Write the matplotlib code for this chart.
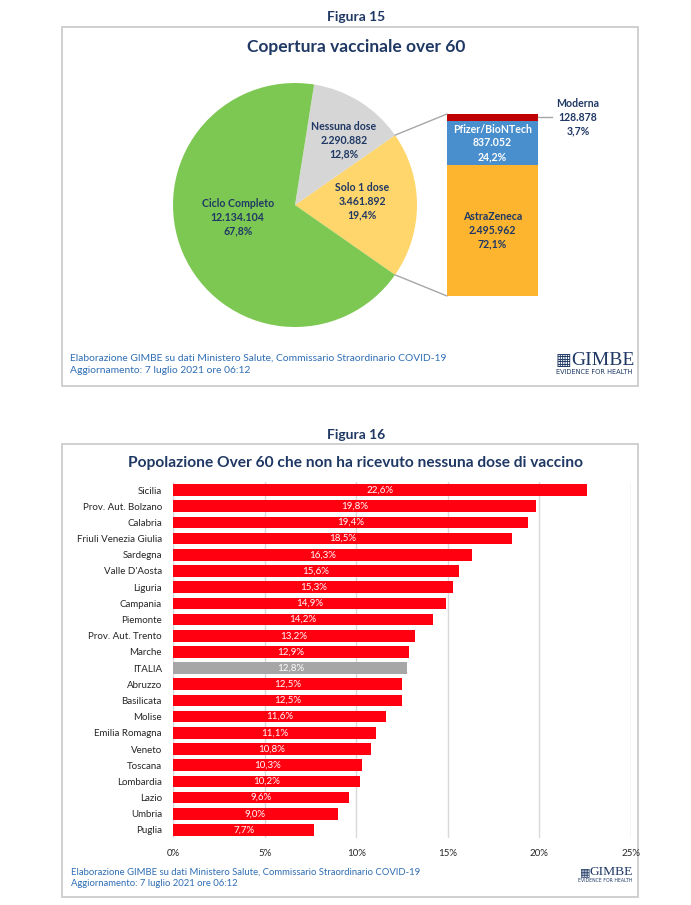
import numpy as np
import matplotlib
matplotlib.use('Agg')
import matplotlib.pyplot as plt
from matplotlib.patches import Rectangle, ConnectionPatch

plt.rcParams['font.family'] = ['Lato', 'DejaVu Sans']

W, H = 691, 905

# Figura 15 - copertura vaccinale over 60
pie_labels = ['Solo 1 dose', 'Nessuna dose', 'Ciclo Completo']
pie_counts = ['3.461.892', '2.290.882', '12.134.104']
pie_perc = [19.4, 12.8, 67.8]
pie_colors = ['#FFD66B', '#D6D6D6', '#7DC853']

vacc_labels = ['AstraZeneca', 'Pfizer/BioNTech', 'Moderna']
vacc_counts = ['2.495.962', '837.052', '128.878']
vacc_perc = [72.1, 24.2, 3.7]
vacc_colors = ['#FDB52F', '#4A8FCD', '#C00000']

# Figura 16 - over 60 senza nessuna dose
regioni = ['Sicilia', 'Prov. Aut. Bolzano', 'Calabria', 'Friuli Venezia Giulia',
           'Sardegna', "Valle D'Aosta", 'Liguria', 'Campania', 'Piemonte',
           'Prov. Aut. Trento', 'Marche', 'ITALIA', 'Abruzzo', 'Basilicata',
           'Molise', 'Emilia Romagna', 'Veneto', 'Toscana', 'Lombardia',
           'Lazio', 'Umbria', 'Puglia']
nessuna_dose = [22.6, 19.8, 19.4, 18.5, 16.3, 15.6, 15.3, 14.9, 14.2, 13.2, 12.9,
                12.8, 12.5, 12.5, 11.6, 11.1, 10.8, 10.3, 10.2, 9.6, 9.0, 7.7]
xticks = [0, 5, 10, 15, 20, 25]

blu = '#1F3864'
blu_note = '#2E6DB4'


def pct(v):
    return '{:.1f}%'.format(v).replace('.', ',')


fig = plt.figure(figsize=(W / 100, H / 100), dpi=100)


def px_axes(x0, y0, x1, y1):
    return fig.add_axes([x0 / W, 1 - y1 / H, (x1 - x0) / W, (y1 - y0) / H])


# sfondo in pixel per cornici e testi
bg = fig.add_axes([0, 0, 1, 1], zorder=0)
bg.set_xlim(0, W)
bg.set_ylim(H, 0)
bg.axis('off')

for (y0, y1) in [(27, 386), (444, 897)]:
    bg.add_patch(Rectangle((62, y0), 576, y1 - y0, fill=False, ec='#C8C8C8', lw=1.2))

bg.text(356, 17, 'Figura 15', ha='center', va='center', fontsize=10, fontweight='bold', color=blu)
bg.text(356, 47, 'Copertura vaccinale over 60', ha='center', va='center', fontsize=12.5,
        fontweight='bold', color=blu)
bg.text(356, 435, 'Figura 16', ha='center', va='center', fontsize=10, fontweight='bold', color=blu)
bg.text(356, 463, 'Popolazione Over 60 che non ha ricevuto nessuna dose di vaccino', ha='center',
        va='center', fontsize=11.2, fontweight='bold', color=blu)

note = ('Elaborazione GIMBE su dati Ministero Salute, Commissario Straordinario COVID-19\n'
        'Aggiornamento: 7 luglio 2021 ore 06:12')
bg.text(70, 364, note, ha='left', va='center', fontsize=7.4, color=blu_note, linespacing=1.45)
bg.text(71, 878, note, ha='left', va='center', fontsize=6.85, color=blu_note, linespacing=1.4)


def logo(x0, x1, y, size, icon):
    bg.text(x0 + 2, y, '\u25A6', ha='left', va='center', fontsize=icon, color=blu,
            family='DejaVu Sans')
    bg.text(x1, y, 'GIMBE', ha='right', va='center', fontsize=size, color=blu,
            family='Liberation Serif')
    bg.text((x0 + x1) / 2, y + 12 * size / 14, 'EVIDENCE FOR HEALTH', ha='center', va='center',
            fontsize=size * 0.34, color=blu, family='DejaVu Sans')


logo(554, 635, 360, 14, 12)
logo(578, 633, 872, 9.7, 8)

# torta
ax1 = px_axes(173, 83, 417, 327)
wedges, _ = ax1.pie(pie_perc, colors=pie_colors, startangle=-pie_perc[0] / 100 * 180,
                    counterclock=True, wedgeprops=dict(linewidth=0))
ax1.set_xlim(-1, 1)
ax1.set_ylim(-1, 1)
ax1.set_facecolor('none')
label_xy = [(0.55, 0.03), (0.40, 0.53), (-0.47, -0.10)]
for lab, cnt, p, (lx, ly) in zip(pie_labels, pie_counts, pie_perc, label_xy):
    ax1.text(lx, ly, '{}\n{}\n{}'.format(lab, cnt, pct(p)), ha='center', va='center',
             fontsize=7.6, fontweight='bold', color=blu, linespacing=1.3)

# barra dei vaccini (prima dose)
ax2 = px_axes(447, 114, 538, 296)
bottom = 0
mids = []
for v, c in zip(vacc_perc, vacc_colors):
    ax2.bar(0, v, bottom=bottom, width=1, color=c, linewidth=0)
    mids.append(bottom + v / 2)
    bottom += v
ax2.set_xlim(-0.5, 0.5)
ax2.set_ylim(0, 100)
ax2.axis('off')

ax2.text(0, mids[0], '{}\n{}\n{}'.format(vacc_labels[0], vacc_counts[0], pct(vacc_perc[0])),
         ha='center', va='center', fontsize=7.6, fontweight='bold', color=blu, linespacing=1.3)
ax2.text(0, mids[1], '{}\n{}\n{}'.format(vacc_labels[1], vacc_counts[1], pct(vacc_perc[1])),
         ha='center', va='center', fontsize=7.6, fontweight='bold', color='white', linespacing=1.3)
ax2.plot([0.5, 0.65], [mids[2], mids[2]], color='#A6A6A6', lw=1, clip_on=False)
ax2.text(0.94, mids[2], '{}\n{}\n{}'.format(vacc_labels[2], vacc_counts[2], pct(vacc_perc[2])),
         ha='center', va='center', fontsize=7.6, fontweight='bold', color=blu, linespacing=1.3)

w = wedges[0]
for ang, yb in [(w.theta2, 100), (w.theta1, 0)]:
    a = np.deg2rad(ang)
    con = ConnectionPatch(xyA=(np.cos(a), np.sin(a)), coordsA=ax1.transData,
                          xyB=(-0.5, yb), coordsB=ax2.transData, color='#A6A6A6', lw=1)
    fig.add_artist(con)

# barre regioni
ax3 = px_axes(173, 482, 631, 838)
ypos = np.arange(len(regioni))
colori = ['#A6A6A6' if r == 'ITALIA' else '#FF0010' for r in regioni]
ax3.barh(ypos, nessuna_dose, height=0.72, color=colori, zorder=3)
ax3.set_xlim(0, 25)
ax3.set_ylim(len(regioni) - 0.5, -0.5)
ax3.set_xticks(xticks)
ax3.set_xticklabels(['{}%'.format(t) for t in xticks])
ax3.set_yticks(ypos)
ax3.set_yticklabels(regioni)
ax3.tick_params(length=0, labelsize=7, colors='#262626')
ax3.tick_params(axis='y', pad=8)
ax3.tick_params(axis='x', pad=8)
ax3.grid(axis='x', color='#D9D9D9', lw=1, zorder=0)
for s in ax3.spines.values():
    s.set_visible(False)
ax3.set_facecolor('none')
for yy, v in zip(ypos, nessuna_dose):
    ax3.text(v / 2, yy, pct(v), ha='center', va='center', fontsize=7, color='white', zorder=4)

fig.savefig('out.png', dpi=100)
